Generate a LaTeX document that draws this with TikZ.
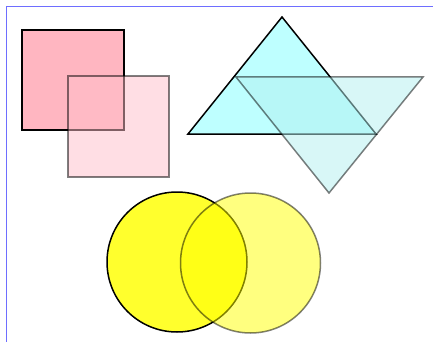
\documentclass[tikz,border=0pt]{standalone}
\begin{document}
\begin{tikzpicture}[x=1pt,y=-1pt,
  solidshape/.style={draw=black,line width=1.5pt,line join=miter},
  halfshape/.style={draw=black,line width=1.5pt,opacity=0.5}]
\useasboundingbox (0,0) rectangle (433,342);
\definecolor{pinkA}{RGB}{255,182,193}
\definecolor{pinkB}{RGB}{255,190,201}
\definecolor{cyanA}{RGB}{190,255,255}
\definecolor{cyanB}{RGB}{178,240,240}
\definecolor{yelA}{RGB}{255,255,45}
\definecolor{yelB}{RGB}{255,255,0}
\definecolor{frameblue}{RGB}{110,110,255}
\draw[draw=frameblue,line width=1.2pt] (6.8,342) -- (6.8,6.8) -- (433,6.8);
% squares
\path[solidshape,fill=pinkA] (22,30) rectangle (124,130);
\path[halfshape,fill=pinkB] (68,76) rectangle (169,177);
% triangles
\path[solidshape,fill=cyanA] (282,17) -- (376,134) -- (188,134) -- cycle;
\path[halfshape,fill=cyanB] (236,77) -- (423,77) -- (329,193) -- cycle;
% circles
\path[solidshape,fill=yelA] (177,262) circle[radius=70];
\path[halfshape,fill=yelB] (250.5,263) circle[radius=70];
\end{tikzpicture}
\end{document}
